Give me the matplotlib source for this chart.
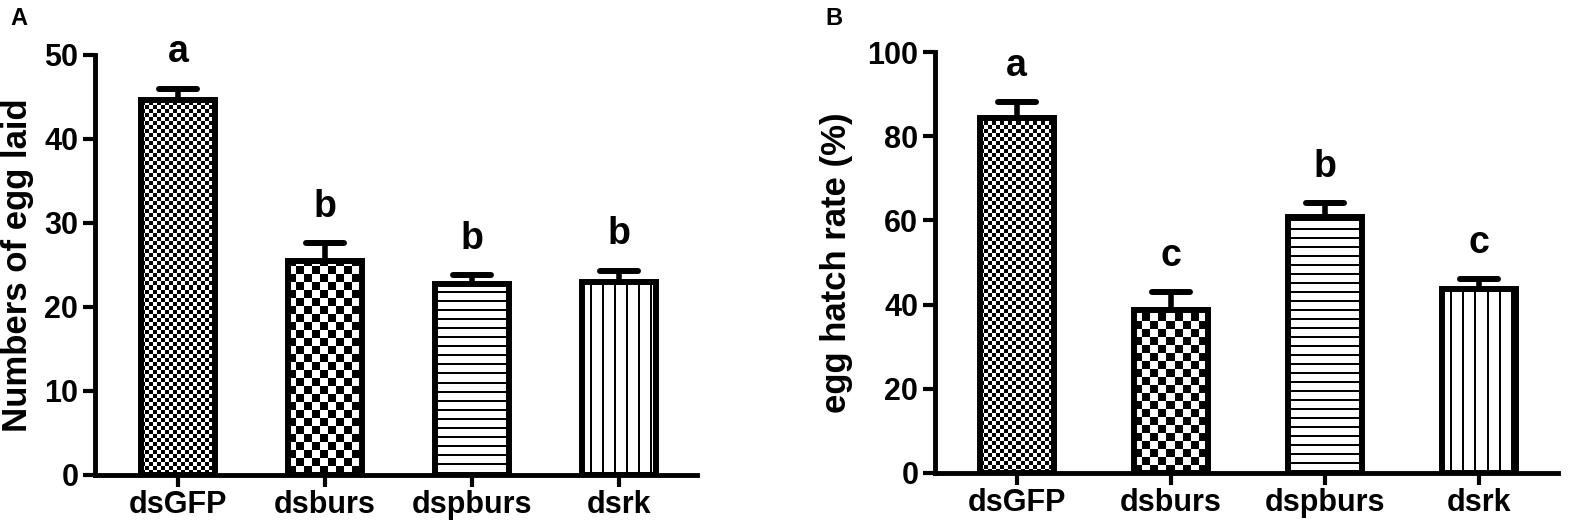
import numpy as np
import matplotlib
matplotlib.use("Agg")
import matplotlib.pyplot as plt
from matplotlib.markers import MarkerStyle

plt.rcParams['font.family'] = ['Liberation Sans', 'DejaVu Sans']
plt.rcParams['font.weight'] = 'bold'

groups = ["dsGFP", "dsburs", "dspburs", "dsrk"]
fills = ["fine_check", "coarse_check", "hlines", "vlines"]

# panel A: numbers of egg laid
eggs_mean = [44.6, 25.5, 22.7, 23.0]
eggs_err = [1.4, 2.1, 1.05, 1.3]
eggs_letters = ["a", "b", "b", "b"]

# panel B: egg hatch rate (%)
hatch_mean = [84.3, 38.7, 60.8, 43.7]
hatch_err = [3.8, 4.3, 3.3, 2.4]
hatch_letters = ["a", "c", "b", "c"]


def texture(kind, h, w):
    """Black/white fill pattern, one cell per screen pixel."""
    i, j = np.mgrid[0:h, 0:w]
    if kind == "fine_check":
        img = (i // 4 + j // 4) % 2
    elif kind == "coarse_check":
        img = (i // 8 + j // 8) % 2
    elif kind == "hlines":
        img = (i % 9 >= 2).astype(int)
    else:
        img = ((j + 4) % 12 >= 2).astype(int)
    return img


def draw_panel(ax, means, errs, letters, ylabel, ymax, ystep, xlim, width, label_x):
    x = np.arange(len(groups))
    ax.set_xlim(*xlim)
    ax.set_ylim(0, ymax)

    bars = ax.bar(x, means, width=width, facecolor='none', edgecolor='black',
                  linewidth=4.3, zorder=3)
    for bar, kind in zip(bars, fills):
        x0 = bar.get_x()
        x1 = x0 + bar.get_width()
        h = bar.get_height()
        p0 = ax.transData.transform((x0, 0))
        p1 = ax.transData.transform((x1, h))
        wpx = max(int(round(p1[0] - p0[0])), 1)
        hpx = max(int(round(p1[1] - p0[1])), 1)
        im = ax.imshow(texture(kind, hpx, wpx), cmap='gray', vmin=0, vmax=1,
                       origin='lower', extent=(x0, x1, 0, h), aspect='auto',
                       interpolation='nearest', zorder=2)
        im.set_clip_path(bar)

    _, caps, _ = ax.errorbar(x, means, yerr=[np.zeros(len(x)), errs], fmt='none',
                             ecolor='black', elinewidth=4, capsize=14,
                             capthick=4.3, zorder=4)
    for cl in caps:
        cl.set_marker(MarkerStyle('_', capstyle='round'))
        if np.allclose(cl.get_ydata(), means):
            cl.set_visible(False)

    for xi, m, e, t in zip(x, means, errs, letters):
        ax.annotate(t, (xi, m + e), xytext=(0, 19), textcoords='offset points',
                    ha='center', va='baseline', fontsize=27, fontweight='bold')

    ax.set_xlim(*xlim)
    ax.set_ylim(0, ymax)
    ax.set_xticks(x)
    ax.set_xticklabels(groups)
    ax.set_yticks(np.arange(0, ymax + 1, ystep))
    for side in ["top", "right"]:
        ax.spines[side].set_visible(False)
    for side in ["left", "bottom"]:
        ax.spines[side].set_linewidth(3.5)
    ax.tick_params(axis='both', width=3, length=8.5, labelsize=22)
    ax.tick_params(axis='y', pad=3.5)
    ax.tick_params(axis='x', pad=2.5)
    ax.set_ylabel(ylabel, fontsize=25, fontweight='bold')
    ax.yaxis.set_label_coords(label_x, 0.5)


fig = plt.figure(figsize=(15.76, 5.27), dpi=100)
axA = fig.add_axes([95 / 1576, 52.5 / 527, 602 / 1576, 419.5 / 527])
axB = fig.add_axes([935 / 1576, 54 / 527, 623 / 1576, 421 / 527])

draw_panel(axA, eggs_mean, eggs_err, eggs_letters, "Numbers of egg laid",
           50, 10, (-0.565, 3.53), 0.50, -0.101)
draw_panel(axB, hatch_mean, hatch_err, hatch_letters, "egg hatch rate (%)",
           100, 20, (-0.53, 3.51), 0.48, -0.132)

fig.text(10 / 1576, 1 - 25 / 527, "A", fontsize=17, fontweight='bold', va='baseline')
fig.text(825 / 1576, 1 - 25 / 527, "B", fontsize=17, fontweight='bold', va='baseline')

fig.savefig("out.png", dpi=100)
